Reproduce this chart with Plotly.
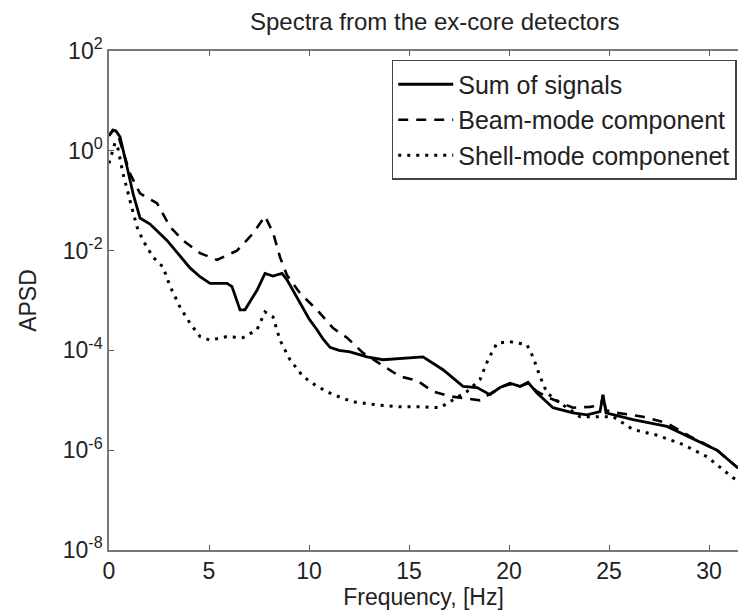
import plotly.graph_objects as go

# Sum of signals
freq_sum = [0.0, 0.2, 0.35, 0.55, 0.9, 1.2, 1.55, 2.05, 2.9, 3.7, 4.05, 4.55, 5.05, 5.9, 6.15,
            6.55, 6.8, 7.4, 7.8, 8.2, 8.65, 8.9, 9.55, 10.0, 10.4, 10.7, 11.05, 11.5, 12.05,
            12.55, 12.9, 13.7, 14.55, 15.7, 16.7, 17.7, 18.4, 19.05, 19.55, 20.05, 20.55,
            20.95, 21.4, 22.2, 23.2, 23.9, 24.55, 24.7, 24.85, 26.2, 27.9, 29.2, 30.4, 31.45]
apsd_sum = [2.0, 2.6, 2.5, 1.9, 4.8e-1, 1.4e-1, 4.5e-2, 3.4e-2, 1.6e-2, 6.5e-3, 4.5e-3, 3.0e-3,
            2.2e-3, 2.2e-3, 1.9e-3, 6.5e-4, 6.5e-4, 1.6e-3, 3.5e-3, 3.1e-3, 3.5e-3, 2.6e-3,
            8.9e-4, 4.3e-4, 2.6e-4, 1.7e-4, 1.15e-4, 1.0e-4, 9.3e-5, 8.1e-5, 7.4e-5, 6.5e-5,
            6.8e-5, 7.4e-5, 4.1e-5, 1.9e-5, 1.8e-5, 1.3e-5, 1.8e-5, 2.2e-5, 1.9e-5, 2.3e-5,
            1.4e-5, 7.1e-6, 5.6e-6, 5.1e-6, 5.9e-6, 1.3e-5, 5.6e-6, 4.1e-6, 3.0e-6, 1.7e-6,
            1.0e-6, 4.4e-7]

# Beam-mode component
freq_beam = [0.0, 0.2, 0.4, 0.7, 1.05, 1.55, 2.4, 3.05, 3.7, 4.55, 5.4, 6.4, 7.2, 7.8, 8.2,
             8.55, 8.9, 9.55, 10.4, 11.2, 11.9, 12.7, 14.05, 14.55, 15.4, 16.2, 17.05, 17.9,
             18.55, 19.05, 19.55, 20.05, 20.55, 20.95, 21.4, 22.05, 23.2, 24.05, 24.6, 24.7,
             24.85, 25.4, 26.7, 27.9, 29.05, 30.4, 31.45]
apsd_beam = [2.0, 2.6, 2.4, 1.0, 3.5e-1, 1.4e-1, 8.9e-2, 3.0e-2, 1.6e-2, 8.9e-3, 6.5e-3,
             1.0e-2, 2.2e-2, 4.9e-2, 2.3e-2, 7.4e-3, 3.2e-3, 1.4e-3, 6.5e-4, 2.8e-4, 1.8e-4,
             8.9e-5, 4.1e-5, 3.0e-5, 2.5e-5, 1.5e-5, 1.2e-5, 1.1e-5, 1.0e-5, 1.35e-5, 1.8e-5,
             2.1e-5, 1.9e-5, 2.2e-5, 1.5e-5, 1.1e-5, 7.1e-6, 7.4e-6, 7.9e-6, 1.26e-5, 6.3e-6,
             5.6e-6, 4.7e-6, 3.5e-6, 1.9e-6, 1.0e-6, 4.4e-7]

# Shell-mode component
freq_shell = [0.0, 0.15, 0.3, 0.45, 0.7, 1.05, 1.4, 1.7, 2.2, 2.7, 3.05, 3.55, 4.05, 4.55,
              5.05, 5.9, 6.7, 7.4, 7.8, 8.2, 8.55, 9.05, 9.7, 10.4, 11.2, 12.2, 13.4, 14.55,
              15.55, 16.55, 17.05, 17.9, 18.55, 18.95, 19.4, 20.05, 20.9, 21.2, 21.55, 21.9,
              22.55, 23.55, 24.55, 25.2, 26.2, 27.4, 28.7, 29.9, 31.2, 31.45]
apsd_shell = [5.6e-1, 8.9e-1, 1.45, 1.1, 3.5e-1, 1.0e-1, 3.0e-2, 1.6e-2, 7.4e-3, 4.7e-3,
              1.95e-3, 7.4e-4, 3.5e-4, 1.9e-4, 1.6e-4, 1.9e-4, 1.8e-4, 2.6e-4, 5.9e-4, 4.7e-4,
              1.6e-4, 6.5e-5, 3.0e-5, 1.9e-5, 1.3e-5, 9.3e-6, 8.1e-6, 7.4e-6, 7.4e-6, 7.1e-6,
              9.3e-6, 1.5e-5, 2.6e-5, 6.5e-5, 1.4e-4, 1.5e-4, 1.3e-4, 7.4e-5, 3.0e-5, 1.4e-5,
              8.9e-6, 4.7e-6, 4.7e-6, 4.7e-6, 2.6e-6, 2.0e-6, 1.3e-6, 7.4e-7, 2.8e-7, 2.5e-7]

x_ticks = [0, 5, 10, 15, 20, 25, 30]
y_ticks = [1e2, 1e0, 1e-2, 1e-4, 1e-6, 1e-8]
y_ticktext = ["10<sup>2</sup>", "10<sup>0</sup>", "10<sup>-2</sup>", "10<sup>-4</sup>",
              "10<sup>-6</sup>", "10<sup>-8</sup>"]

FONT = "Liberation Sans, Arial, Helvetica, sans-serif"

fig = go.Figure()
fig.add_trace(go.Scatter(x=freq_sum, y=apsd_sum, mode="lines", name="Sum of signals",
                         line=dict(color="black", width=2.8, dash="solid")))
fig.add_trace(go.Scatter(x=freq_beam, y=apsd_beam, mode="lines", name="Beam-mode component",
                         line=dict(color="black", width=2.6, dash="10px,8px")))
fig.add_trace(go.Scatter(x=freq_shell, y=apsd_shell, mode="lines", name="Shell-mode componenet",
                         line=dict(color="black", width=3, dash="3px,6px")))

fig.update_layout(
    width=738, height=613,
    margin=dict(l=109, r=0, t=51, b=63),
    paper_bgcolor="white", plot_bgcolor="white",
    font=dict(family=FONT, size=23, color="#222"),
    title=dict(text="Spectra from the ex-core detectors", x=0.589, xref="container",
               xanchor="center", y=0.965, yref="container", yanchor="middle",
               font=dict(size=24, color="#222")),
    showlegend=True,
    legend=dict(x=0.998, y=0.982, xanchor="right", yanchor="top",
                bgcolor="white", bordercolor="#444", borderwidth=1.5,
                font=dict(size=25, color="#222"), tracegroupgap=0,
                itemwidth=55),
)
fig.update_xaxes(range=[0, 31.45], tickvals=x_ticks, ticks="inside", ticklen=5,
                 tickcolor="#555", showline=True, linecolor="#777", linewidth=1.5,
                 mirror="ticks", showgrid=False, zeroline=False,
                 title=dict(text="Frequency, [Hz]", standoff=0, font=dict(size=23)),
                 tickfont=dict(size=23))
fig.update_yaxes(type="log", range=[-8, 2], tickvals=y_ticks, ticktext=y_ticktext,
                 ticks="inside", ticklen=5, tickcolor="#555", showline=True,
                 linecolor="#777", linewidth=1.5, showgrid=False, zeroline=False,
                 title=dict(text="APSD", standoff=20, font=dict(size=23)),
                 tickfont=dict(size=23))

fig.write_html("out.html")
